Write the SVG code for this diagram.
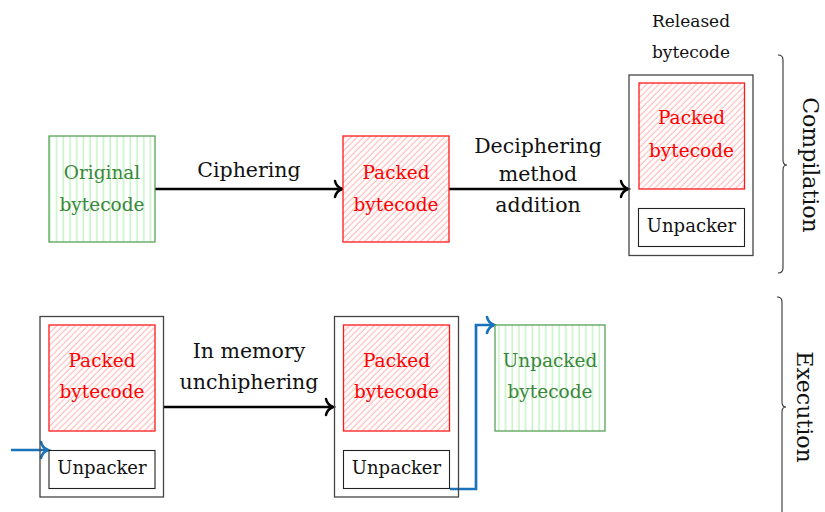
<svg xmlns="http://www.w3.org/2000/svg" width="825" height="512" viewBox="0 0 825 512">
  <style>
    text { font-family: "DejaVu Serif", "Liberation Serif", serif; text-anchor: middle; }
    .lbl { font-size: 20.5px; fill: #111; }
    .box { font-size: 18.5px; }
    .gtxt { fill: #3a873a; }
    .rtxt { fill: #ff0000; }
    .ktxt { fill: #111; font-size: 18px; }
    .gbox { fill: url(#vlines); stroke: #4a9a4a; stroke-width: 1.2; }
    .rbox { fill: url(#nelines); stroke: #ff1a1a; stroke-width: 1.3; }
    .outer { fill: none; stroke: #444; stroke-width: 1.3; }
    .unp { fill: #fff; stroke: #222; stroke-width: 1.1; }
    .arr { fill: none; stroke: #000; stroke-width: 2.5; marker-end: url(#ah); }
    .barr { fill: none; stroke: #1a72bb; stroke-width: 2.7; marker-end: url(#bh); }
    .brace { fill: none; stroke: #333; stroke-width: 1.1; }
    .side { font-size: 22px; fill: #111; }
  </style>
  <defs>
    <pattern id="vlines" patternUnits="userSpaceOnUse" width="6.7" height="10">
      <rect width="6.7" height="10" fill="#fff"/>
      <line x1="3" y1="0" x2="3" y2="10" stroke="#b0f0b0" stroke-width="1.1"/>
    </pattern>
    <pattern id="nelines" patternUnits="userSpaceOnUse" width="4.4" height="10" patternTransform="rotate(45)">
      <rect width="4.4" height="10" fill="#fff"/>
      <line x1="2" y1="0" x2="2" y2="10" stroke="#ffb8b8" stroke-width="1.1"/>
    </pattern>
    <marker id="ah" markerUnits="userSpaceOnUse" viewBox="-10 -10 12 20" markerWidth="12" markerHeight="20" refX="0" refY="0" orient="auto" overflow="visible">
      <path d="M-7,-8 C-6,-3.2 -2.2,-0.9 0,0 C-2.2,0.9 -6,3.2 -7,8" fill="none" stroke="#000" stroke-width="2.5" stroke-linecap="round"/>
    </marker>
    <marker id="bh" markerUnits="userSpaceOnUse" viewBox="-10 -10 12 20" markerWidth="12" markerHeight="20" refX="0" refY="0" orient="auto" overflow="visible">
      <path d="M-7,-8 C-6,-3.2 -2.2,-0.9 0,0 C-2.2,0.9 -6,3.2 -7,8" fill="none" stroke="#1a72bb" stroke-width="2.7" stroke-linecap="round"/>
    </marker>
  </defs>

  <g id="connectors">
    <line class="arr" x1="155" y1="189" x2="342" y2="189"/>
    <line class="arr" x1="449" y1="189" x2="628" y2="189"/>
    <line class="arr" x1="164" y1="407" x2="333" y2="407"/>
    <line class="barr" x1="11" y1="450" x2="48" y2="450"/>
    <path class="barr" d="M450,489 H476 V325 H494"/>
  </g>

  <g id="labels">
    <text class="lbl" x="249" y="176.5">Ciphering</text>
    <text class="lbl" x="538" y="152.5">Deciphering</text>
    <text class="lbl" x="538" y="180.5">method</text>
    <text class="lbl" x="538" y="212">addition</text>
    <text class="lbl" x="249" y="358">In memory</text>
    <text class="lbl" x="249" y="389">unchiphering</text>
  </g>

  <g id="original">
    <rect class="gbox" x="49" y="136" width="106" height="106"/>
    <text class="box gtxt" x="102" y="179">Original</text>
    <text class="box gtxt" x="102" y="210.5">bytecode</text>
  </g>

  <g id="packed1">
    <rect class="rbox" x="343" y="136" width="106" height="106"/>
    <text class="box rtxt" x="396" y="179">Packed</text>
    <text class="box rtxt" x="396" y="210.5">bytecode</text>
  </g>

  <g id="released">
    <text style="font-size:17px;fill:#111" x="691" y="26.5">Released</text>
    <text style="font-size:17px;fill:#111" x="691" y="57.5">bytecode</text>
    <rect class="outer" x="629" y="75" width="124" height="180.5"/>
    <rect class="rbox" x="639" y="83" width="105.5" height="106"/>
    <text class="box rtxt" x="691.5" y="124">Packed</text>
    <text class="box rtxt" x="691.5" y="156.5">bytecode</text>
    <rect class="unp" x="638.5" y="208.5" width="106" height="38"/>
    <text class="ktxt" x="691.5" y="231.5">Unpacker</text>
  </g>

  <g id="exec1">
    <rect class="outer" x="40" y="316.5" width="123.5" height="180.5"/>
    <rect class="rbox" x="49" y="325" width="106" height="106"/>
    <text class="box rtxt" x="102" y="366.5">Packed</text>
    <text class="box rtxt" x="102" y="398">bytecode</text>
    <rect class="unp" x="49" y="450.5" width="106" height="38"/>
    <text class="ktxt" x="102" y="474">Unpacker</text>
  </g>

  <g id="exec2">
    <rect class="outer" x="334.5" y="316.5" width="124" height="180.5"/>
    <rect class="rbox" x="343.5" y="325" width="106" height="106"/>
    <text class="box rtxt" x="396.5" y="366.5">Packed</text>
    <text class="box rtxt" x="396.5" y="398">bytecode</text>
    <rect class="unp" x="343.5" y="450.5" width="106" height="38"/>
    <text class="ktxt" x="396.5" y="474">Unpacker</text>
  </g>

  <g id="unpacked">
    <rect class="gbox" x="495" y="325" width="110" height="106"/>
    <text class="box gtxt" x="550" y="366.5">Unpacked</text>
    <text class="box gtxt" x="550" y="398">bytecode</text>
  </g>

  <g id="compilation">
    <path class="brace" d="M778,55 Q783,55 783,60 V160 Q783,165 787,165 Q783,165 783,170 V268 Q783,273 778,273"/>
    <text class="side" transform="translate(803,165) rotate(90)" x="0" y="0">Compilation</text>
  </g>

  <g id="execution">
    <path class="brace" d="M777,297 Q782,297 782,302 V402 Q782,407 786,407 Q782,407 782,412 V517 Q782,522 777,522"/>
    <text class="side" transform="translate(797,407) rotate(90)" x="0" y="0">Execution</text>
  </g>
</svg>
